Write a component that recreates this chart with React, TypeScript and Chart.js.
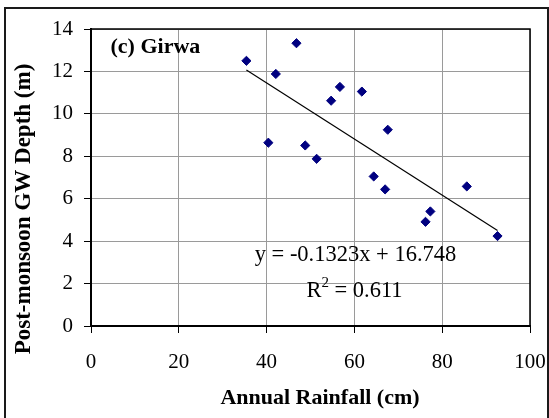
import React, { useEffect, useRef } from "react";
import { Chart, registerables } from "chart.js";

Chart.register(...registerables);

// Annual rainfall (cm) against post-monsoon groundwater depth (m), Girwa
const rainfall = [35.4, 40.4, 42.1, 46.8, 48.8, 51.4, 54.7, 56.7, 61.7, 64.4, 67.0, 67.6, 76.2, 77.3, 85.6, 92.6];
const gwDepth = [12.5, 8.64, 11.88, 13.33, 8.51, 7.88, 10.62, 11.27, 11.05, 7.05, 6.44, 9.25, 4.91, 5.4, 6.58, 4.24];

// Linear fit reported on the chart
const slope = -0.1323;
const intercept = 16.748;
const rSquared = 0.611;

const xMin = 0;
const xMax = 100;
const xStep = 20;
const yMin = 0;
const yMax = 14;
const yStep = 2;

const panelLabel = "(c) Girwa";
const xTitle = "Annual Rainfall (cm)";
const yTitle = "Post-monsoon GW Depth (m)";

const SERIF = "'Liberation Serif', 'Times New Roman', serif";

const decorations = {
  id: "decorations",
  beforeDatasetsDraw(chart: any) {
    const { ctx, chartArea } = chart;
    ctx.save();
    ctx.strokeStyle = "#000";
    ctx.lineWidth = 1.5;
    ctx.beginPath();
    ctx.moveTo(chartArea.left, chartArea.top);
    ctx.lineTo(chartArea.right, chartArea.top);
    ctx.lineTo(chartArea.right, chartArea.bottom);
    ctx.stroke();
    ctx.restore();
  },
  afterDraw(chart: any) {
    const { ctx } = chart;
    ctx.save();

    // outer frame
    ctx.strokeStyle = "#1a1a1a";
    ctx.lineWidth = 2;
    ctx.strokeRect(5, 8, 543, 420);

    ctx.fillStyle = "#000";

    // panel label
    ctx.font = `bold 22px ${SERIF}`;
    ctx.textAlign = "left";
    ctx.textBaseline = "middle";
    ctx.fillText(panelLabel, 110.5, 47.5);

    // axis titles
    ctx.textAlign = "center";
    ctx.fillText(xTitle, 320, 398);
    ctx.save();
    ctx.font = `bold 23px ${SERIF}`;
    ctx.translate(24, 209);
    ctx.rotate(-Math.PI / 2);
    ctx.fillText(yTitle, 0, 0);
    ctx.restore();

    // regression equation
    ctx.font = `22.5px ${SERIF}`;
    ctx.textAlign = "center";
    ctx.fillText(`y = ${slope}x + ${intercept}`, 355.5, 255);

    // R squared with superscript
    const rPart = "R";
    const supPart = "2";
    const restPart = ` = ${rSquared}`;
    const wR = ctx.measureText(rPart).width;
    const wRest = ctx.measureText(restPart).width;
    ctx.font = `15px ${SERIF}`;
    const wSup = ctx.measureText(supPart).width;
    const total = wR + wSup + wRest;
    let x = 354.5 - total / 2;
    const y = 291.5;
    ctx.textAlign = "left";
    ctx.font = `22.5px ${SERIF}`;
    ctx.fillText(rPart, x, y);
    x += wR;
    ctx.font = `15px ${SERIF}`;
    ctx.fillText(supPart, x, y - 8);
    x += wSup;
    ctx.font = `22.5px ${SERIF}`;
    ctx.fillText(restPart, x, y);

    ctx.restore();
  },
};

export default function App() {
  const canvasRef = useRef<HTMLCanvasElement | null>(null);

  useEffect(() => {
    document.body.style.margin = "0";
    const canvas = canvasRef.current;
    if (!canvas) return;

    const points = rainfall.map((r, i) => ({ x: r, y: gwDepth[i] }));
    const fitStart = Math.min(...rainfall);
    const fitEnd = Math.max(...rainfall);
    const fitLine = [
      { x: fitStart, y: slope * fitStart + intercept },
      { x: fitEnd, y: slope * fitEnd + intercept },
    ];

    const chart = new Chart(canvas, {
      type: "scatter",
      data: {
        datasets: [
          {
            label: "GW depth",
            data: points,
            pointStyle: "rectRot",
            pointRadius: 4.6,
            pointBorderWidth: 1,
            backgroundColor: "#000080",
            borderColor: "#000080",
            order: 0,
          },
          {
            label: "Linear fit",
            data: fitLine,
            showLine: true,
            borderColor: "#000",
            borderWidth: 1.2,
            pointRadius: 0,
            order: 1,
          } as any,
        ],
      },
      options: {
        responsive: false,
        animation: false,
        layout: { padding: { left: 0, top: 29, right: 19, bottom: 0 } },
        plugins: {
          legend: { display: false },
          tooltip: { enabled: false },
        },
        scales: {
          x: {
            type: "linear",
            min: xMin,
            max: xMax,
            afterFit: (scale: any) => {
              scale.height = 92;
              scale.paddingLeft = 0;
              scale.paddingRight = 0;
            },
            ticks: {
              stepSize: xStep,
              color: "#000",
              padding: 17,
              font: { family: SERIF, size: 21 },
              maxRotation: 0,
            },
            grid: {
              color: "#9a9a9a",
              lineWidth: 1,
              tickColor: "#000",
              tickLength: 7,
            },
            border: { color: "#000", width: 2 },
          },
          y: {
            type: "linear",
            min: yMin,
            max: yMax,
            afterFit: (scale: any) => {
              scale.width = 91;
              scale.paddingTop = 0;
              scale.paddingBottom = 0;
            },
            ticks: {
              stepSize: yStep,
              color: "#000",
              padding: 11,
              font: { family: SERIF, size: 21 },
            },
            grid: {
              color: "#9a9a9a",
              lineWidth: 1,
              tickColor: "#000",
              tickLength: 7,
            },
            border: { color: "#000", width: 2 },
          },
        },
      },
      plugins: [decorations],
    });

    return () => {
      chart.destroy();
    };
  }, []);

  return (
    <div style={{ width: 549, height: 418 }}>
      <canvas ref={canvasRef} width={549} height={418} style={{ display: "block" }} />
    </div>
  );
}
